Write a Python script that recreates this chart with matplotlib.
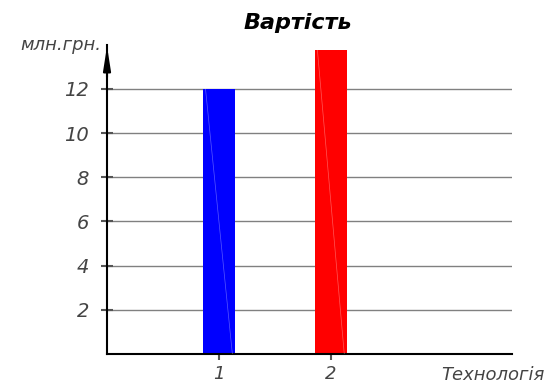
import matplotlib
matplotlib.use("agg")
import matplotlib.pyplot as plt

categories = [1, 2]
values = [12.0, 13.75]
colors = ["#0000ff", "#ff0000"]
yticks = [2, 4, 6, 8, 10, 12]

plt.rcParams["font.family"] = ["DejaVu Sans"]
txt = dict(color="#444444", fontstyle="italic")

fig = plt.figure(figsize=(5.46, 3.85), dpi=100)
ax = fig.add_axes([0.196, 0.0805, 0.742, 0.8036])

for y in yticks:
    ax.axhline(y, color="#808080", lw=1.0, zorder=1)

ax.bar(categories, values, width=0.29, color=colors, zorder=2)
# faint diagonal streak in each bar
for x, v in zip(categories, values):
    ax.plot([x - 0.12, x + 0.12], [v, 0], color="white", lw=0.5, alpha=0.35, zorder=3)

ax.set_xlim(0, 3.62)
ax.set_ylim(0, 14.0)
ax.set_xticks(categories)
ax.set_yticks(yticks)
ax.set_xticklabels([str(c) for c in categories], fontsize=13, **txt)
ax.set_yticklabels([str(y) for y in yticks], fontsize=14, **txt)
ax.tick_params(axis="y", direction="inout", length=8, width=1.5, color="#555555", pad=9)
ax.tick_params(axis="x", direction="out", length=4, width=1.5, color="#555555", pad=4)

for s in ["top", "right"]:
    ax.spines[s].set_visible(False)
for s in ["left", "bottom"]:
    ax.spines[s].set_linewidth(1.5)
    ax.spines[s].set_color("black")

# arrow on y-axis
ax.annotate("", xy=(0, 14.05), xytext=(0, 12.4),
            arrowprops=dict(arrowstyle="-|>,head_width=0.22,head_length=1.4",
                            color="black", lw=1.5),
            annotation_clip=False)

fig.text(0.545, 0.94, "Вартість", ha="center", va="center", fontsize=16,
         fontweight="bold", fontstyle="italic", color="black")
fig.text(0.185, 0.883, "млн.грн.", ha="right", va="center", fontsize=13, **txt)
fig.text(0.997, 0.027, "Технологія", ha="right", va="center", fontsize=13, **txt)

fig.savefig("out.png", dpi=100)
